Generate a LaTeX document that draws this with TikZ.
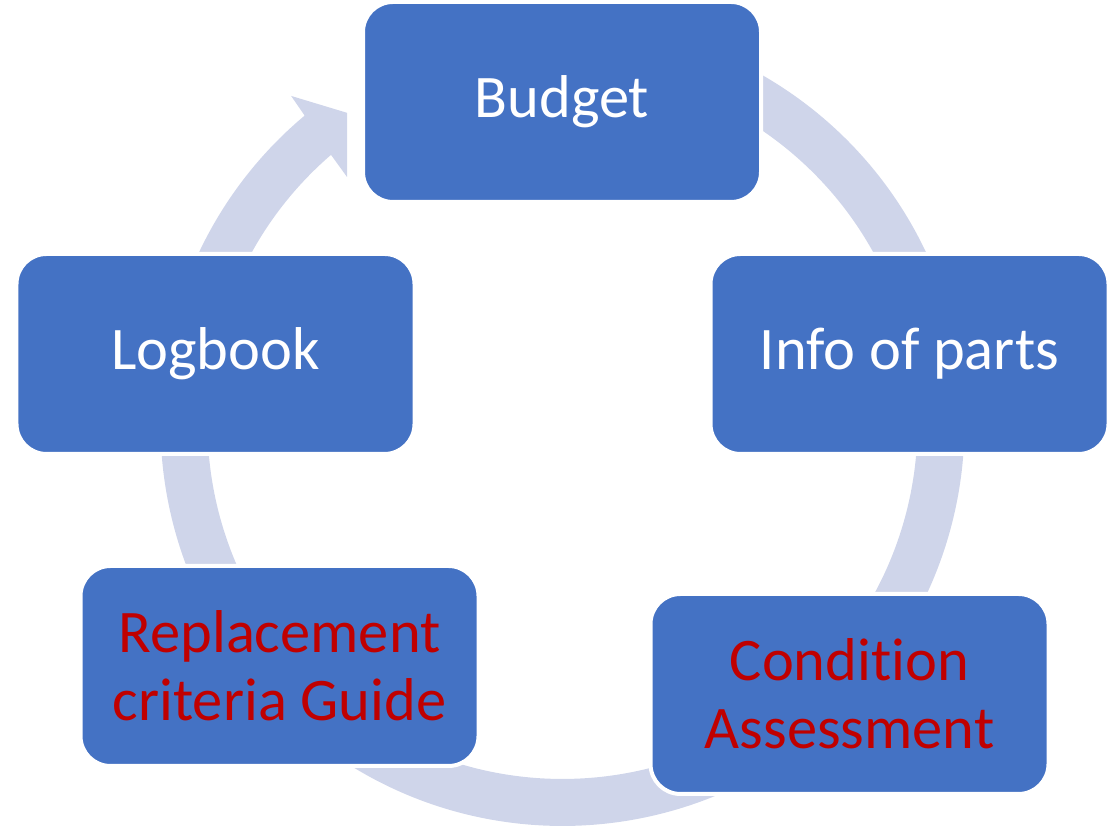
\documentclass[tikz,border=0pt]{standalone}
\usepackage{fontspec}
\setmainfont{Carlito}[Ligatures=NoCommon]
\definecolor{boxblue}{HTML}{4472C4}
\definecolor{ringgray}{HTML}{CFD5EA}
\definecolor{darkred}{HTML}{C00000}
\tikzset{
    stage/.style={draw=white, line width=0.08cm, fill=boxblue, rounded corners=0.6cm,
        minimum width=7.96cm, minimum height=4cm, inner sep=0pt, align=center,
        text=white, font=\fontsize{34.4}{38.5}\selectfont},
    redstage/.style={stage, text=darkred},
    ringseg/.style={draw=ringgray, line width=0.94cm},
}
\begin{document}
\begin{tikzpicture}
        \useasboundingbox (0,0) rectangle (22.28,16.58);
        \coordinate (c) at (11.25,8.10);
        % ring between the stages
        \begin{scope}[shift={(c)}]
            \draw[ringseg] (90:7.57) arc[start angle=90, end angle=11.4, radius=7.57];
            \draw[ringseg] (11.4:7.57) arc[start angle=11.4, end angle=-43.3, radius=7.57];
            \draw[ringseg] (-43.3:7.57) arc[start angle=-43.3, end angle=-130.5, radius=7.57];
            \draw[ringseg] (-130.5:7.57) arc[start angle=-130.5, end angle=-191.4, radius=7.57];
            \fill[ringgray] (168.6:7.10) arc[start angle=168.6, end angle=130.7, radius=7.10]
                -- (131.1:6.556) -- (124.7:7.57) -- (129.6:8.516) -- (129.9:8.04)
                arc[start angle=129.9, end angle=168.6, radius=8.04] -- cycle;
        \end{scope}
        % stages
        \node[stage] (budget) at (11.24,14.54) {Budget};
        \node[stage] (info) at (18.19,9.50) {Info of parts};
        \node[redstage] (condition) at (16.99,2.70) {Condition\\Assessment};
        \node[redstage] (replacement) at (5.59,3.26) {Replacement\\criteria Guide};
        \node[stage] (logbook) at (4.31,9.50) {Logbook};
    \end{tikzpicture}
\end{document}
